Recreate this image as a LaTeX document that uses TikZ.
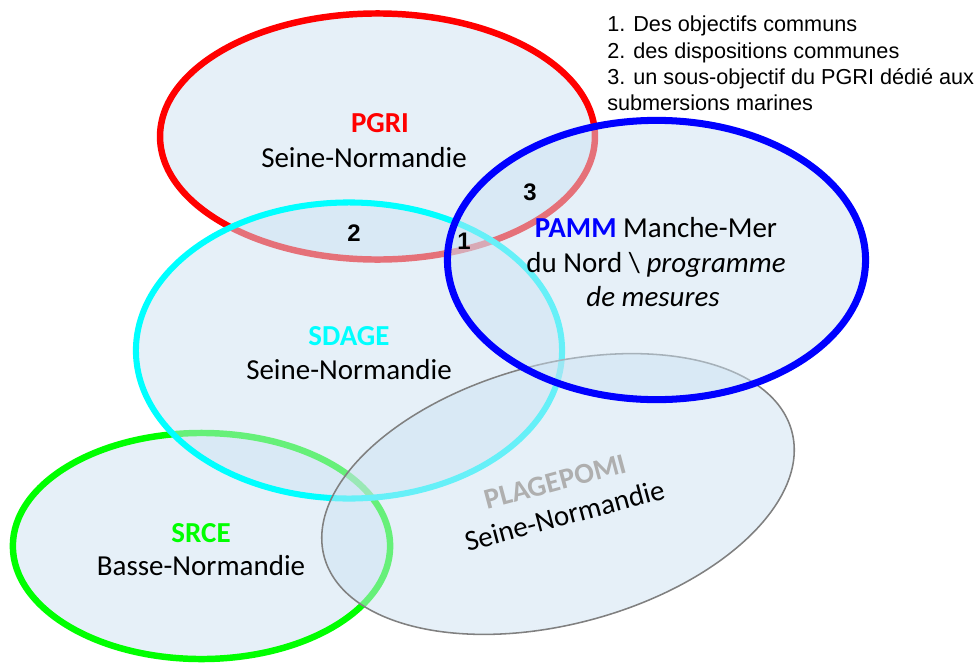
\documentclass[tikz,border=0pt]{standalone}
\usepackage{fontspec}
\setmainfont{Carlito}
\newfontfamily\arialfont{Liberation Sans}
\usetikzlibrary{shapes.geometric}

\definecolor{zonefill}{RGB}{205,226,242}
\definecolor{ringred}{RGB}{255,0,0}
\definecolor{ringcyan}{RGB}{0,255,255}
\definecolor{ringblue}{RGB}{0,0,255}
\definecolor{ringgreen}{RGB}{0,255,0}
\definecolor{ringgray}{RGB}{128,128,128}
\definecolor{labelgray}{RGB}{175,175,175}

\begin{document}
\begin{tikzpicture}[
    x=0.025cm, y=-0.025cm,
    zone/.style={ellipse, draw, fill=zonefill, fill opacity=0.5, inner sep=0pt},
    ringthick/.style={line width=4.6pt},
    title/.style={font=\fontsize{20.6}{25}\selectfont\bfseries, anchor=base},
    subtitle/.style={font=\fontsize{20.6}{25}\selectfont, anchor=base},
    num/.style={font=\arialfont\fontsize{17}{20}\selectfont\bfseries}
]
    \useasboundingbox (0,0) rectangle (979,665);

    % Zones (drawn back to front)
    \node[zone, ringthick, draw=ringred, minimum width=10.87cm, minimum height=6.15cm] (pgri) at (377.5,136.5) {};
    \node[zone, ringthick, draw=ringgreen, minimum width=9.43cm, minimum height=5.65cm] (srce) at (201.5,546) {};
    \node[zone, line width=4.3pt, draw=ringcyan, minimum width=10.65cm, minimum height=7.4cm] (sdage) at (349,350.5) {};
    \node[zone, line width=1.1pt, draw=ringgray, minimum width=12.1cm, minimum height=6.5cm, rotate=15] (plagepomi) at (558,494) {};
    \node[zone, line width=5pt, draw=ringblue, minimum width=10.45cm, minimum height=6.98cm] (pamm) at (656.5,260) {};

    % Zone labels
    \node[title, text=ringred] (pgrit) at (380,132) {PGRI};
    \node[subtitle] (pgris) at (364,167) {Seine-Normandie};

    \node[title, text=ringcyan] (sdaget) at (349,345) {SDAGE};
    \node[subtitle] (sdages) at (349,379) {Seine-Normandie};

    \node[title, text=ringgreen] (srcet) at (201,542) {SRCE};
    \node[subtitle] (srces) at (201,575) {Basse-Normandie};

    \node[subtitle] (pamm1) at (656,237) {\textbf{\textcolor{ringblue}{PAMM}} Manche-Mer};
    \node[subtitle] (pamm2) at (656,272) {du Nord \textbackslash{} \textit{programme}};
    \node[subtitle] (pamm3) at (653,306) {\textit{de mesures}};

    \node[subtitle, anchor=center, align=center, rotate=15] (plagepomit) at (560,499) {\textbf{\textcolor{labelgray}{PLAGEPOMI}}\\Seine-Normandie};

    % Overlap numbers
    \node[num] (n1) at (464,241) {1};
    \node[num] (n2) at (354,233) {2};
    \node[num] (n3) at (530,192) {3};

    % Legend
    \node[anchor=north west, inner sep=0pt, align=left, font=\arialfont\fontsize{15.4}{18.6}\selectfont] (legend) at (607,16) {1. Des objectifs communs\\2. des dispositions communes\\3. un sous-objectif du PGRI dédié aux\\submersions marines};

\end{tikzpicture}
\end{document}
